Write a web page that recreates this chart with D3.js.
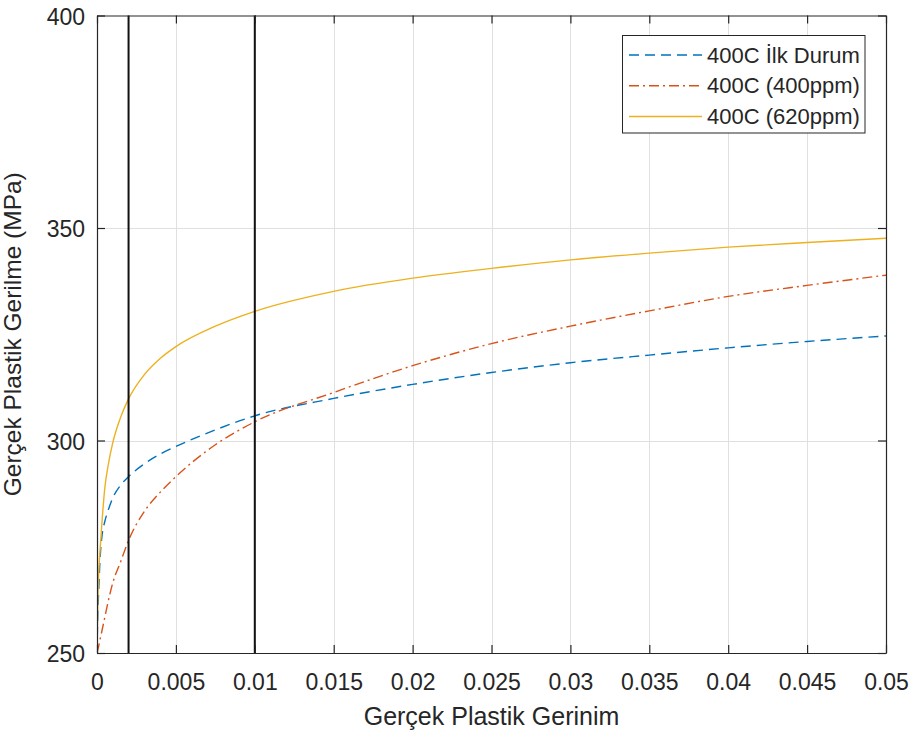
<!DOCTYPE html>
<html>
<head>
<meta charset="utf-8">
<script src="https://cdn.jsdelivr.net/npm/d3@7"></script>
<style>
  html, body { margin: 0; padding: 0; background: #ffffff; }
  svg { display: block; }
  text { font-family: "Liberation Sans", Arial, sans-serif; fill: #262626; }
</style>
</head>
<body>
<svg id="chart" width="915" height="734"></svg>
<script>
// True plastic strain sample points (shared by all curves)
const strain = [0, 0.00005, 0.0001, 0.0002, 0.0003, 0.0005, 0.0007, 0.001, 0.0015, 0.002,
                0.003, 0.004, 0.005, 0.0075, 0.01, 0.015, 0.02, 0.025, 0.03, 0.035, 0.04, 0.045, 0.05];

// True plastic stress (MPa) for each condition
const stressInitial = [250, 259, 264, 272.5, 277, 281, 283.5, 286.5, 289.5, 291.5,
                       294.5, 296.8, 298.6, 302.5, 305.8, 309.9, 313.2, 316.0, 318.3, 320.1, 321.8, 323.3, 324.6];
const stress400ppm  = [250, 250.8, 251.5, 253.3, 255, 258.5, 262, 266.5, 271.5, 276.5,
                       283.3, 287.8, 291.5, 299, 304.4, 311.3, 317.6, 322.8, 326.9, 330.5, 333.9, 336.5, 338.9];
const stress620ppm  = [250, 262, 268, 274.5, 280, 289, 294, 299.5, 305.5, 309.8,
                       315.5, 319.3, 322.1, 326.9, 330.4, 335.1, 338.2, 340.5, 342.5, 344.1, 345.5, 346.6, 347.6];

const seriesNames = ["400C İlk Durum", "400C (400ppm)", "400C (620ppm)"];

// Vertical reference strains
const refStrains = [0.002, 0.01];

// Axis ticks
const xTicks = [0, 0.005, 0.01, 0.015, 0.02, 0.025, 0.03, 0.035, 0.04, 0.045, 0.05];
const xTickLabels = ["0", "0.005", "0.01", "0.015", "0.02", "0.025", "0.03", "0.035", "0.04", "0.045", "0.05"];
const yTicks = [250, 300, 350, 400];
const yTickLabels = ["250", "300", "350", "400"];

const xTitle = "Gerçek Plastik Gerinim";
const yTitle = "Gerçek Plastik Gerilme (MPa)";

// Layout
const L = 97, R = 886, T = 15.5, B = 653;
const svg = d3.select("#chart");

const x = d3.scaleLinear().domain([0, 0.05]).range([L, R]);
const y = d3.scaleLinear().domain([250, 400]).range([B, T]);

const styles = [
  { color: "#0072BD", dash: "10,6" },
  { color: "#D95319", dash: "10,4,2,4" },
  { color: "#EDB120", dash: null }
];
const seriesValues = [stressInitial, stress400ppm, stress620ppm];
const series = seriesNames.map((name, i) => ({
  name,
  style: styles[i],
  points: strain.map((e, j) => ({ e, s: seriesValues[i][j] }))
}));

// Grid
const grid = svg.append("g").attr("class", "grid");
grid.selectAll("line.gx").data(xTicks.slice(1, -1)).join("line")
  .attr("x1", d => Math.round(x(d)) + 0.5).attr("x2", d => Math.round(x(d)) + 0.5)
  .attr("y1", T).attr("y2", B)
  .attr("stroke", "#e0e0e0").attr("stroke-width", 1);
grid.selectAll("line.gy").data(yTicks.slice(1, -1)).join("line")
  .attr("y1", d => Math.round(y(d)) + 0.5).attr("y2", d => Math.round(y(d)) + 0.5)
  .attr("x1", L).attr("x2", R)
  .attr("stroke", "#e0e0e0").attr("stroke-width", 1);

// Curves
const line = d3.line().x(d => x(d.e)).y(d => y(d.s)).curve(d3.curveMonotoneX);
svg.append("clipPath").attr("id", "plotClip")
  .append("rect").attr("x", L).attr("y", T).attr("width", R - L).attr("height", B - T);
const curves = svg.append("g").attr("clip-path", "url(#plotClip)");
curves.selectAll("path").data(series).join("path")
  .attr("d", d => line(d.points))
  .attr("fill", "none")
  .attr("stroke", d => d.style.color)
  .attr("stroke-width", 1.4)
  .attr("stroke-dasharray", d => d.style.dash);

// Vertical reference lines
svg.append("g").selectAll("line").data(refStrains).join("line")
  .attr("x1", d => x(d)).attr("x2", d => x(d))
  .attr("y1", T).attr("y2", B)
  .attr("stroke", "#111111").attr("stroke-width", 2);

// Axes (ticks pointing inward, on all four sides)
const axisColor = "#262626";
const tickLen = 8;
const axBottom = svg.append("g").attr("transform", `translate(0,${B})`)
  .call(d3.axisBottom(x).tickValues(xTicks).tickFormat((d, i) => xTickLabels[i]).tickSizeInner(-tickLen).tickSizeOuter(0));
const axTop = svg.append("g").attr("transform", `translate(0,${T})`)
  .call(d3.axisTop(x).tickValues(xTicks).tickFormat("").tickSizeInner(-tickLen).tickSizeOuter(0));
const axLeft = svg.append("g").attr("transform", `translate(${L},0)`)
  .call(d3.axisLeft(y).tickValues(yTicks).tickFormat((d, i) => yTickLabels[i]).tickSizeInner(-tickLen).tickSizeOuter(0));
const axRight = svg.append("g").attr("transform", `translate(${R},0)`)
  .call(d3.axisRight(y).tickValues(yTicks).tickFormat("").tickSizeInner(-tickLen).tickSizeOuter(0));

[axBottom, axTop, axLeft, axRight].forEach(g => {
  g.select(".domain").attr("stroke", axisColor).attr("stroke-width", 1.2);
  g.selectAll(".tick line").attr("stroke", axisColor).attr("stroke-width", 1.2);
});
axBottom.selectAll(".tick text")
  .attr("font-size", 23).attr("font-family", "Liberation Sans, Arial, sans-serif")
  .attr("fill", axisColor).attr("dy", 0).attr("y", 690 - B);
axLeft.selectAll(".tick text")
  .attr("font-size", 23).attr("font-family", "Liberation Sans, Arial, sans-serif")
  .attr("fill", axisColor).attr("dy", 0).attr("y", 8.5).attr("x", 85 - L);

// Axis titles
svg.append("text")
  .attr("x", (L + R) / 2).attr("y", 725)
  .attr("text-anchor", "middle").attr("font-size", 25)
  .text(xTitle);
svg.append("text")
  .attr("transform", `translate(21,${(T + B) / 2}) rotate(-90)`)
  .attr("text-anchor", "middle").attr("font-size", 24.5)
  .text(yTitle);

// Legend
const lg = svg.append("g");
lg.append("rect")
  .attr("x", 622.5).attr("y", 35.5).attr("width", 242.5).attr("height", 97.5)
  .attr("fill", "#ffffff").attr("stroke", axisColor).attr("stroke-width", 1);
const rowY = d3.scaleLinear().domain([0, 2]).range([55, 116.5]);
const rows = lg.selectAll("g.row").data(series).join("g")
  .attr("transform", (d, i) => `translate(0,${rowY(i)})`);
rows.append("line")
  .attr("x1", 629).attr("x2", 702).attr("y1", 0).attr("y2", 0)
  .attr("stroke", d => d.style.color).attr("stroke-width", 1.3)
  .attr("stroke-dasharray", d => d.style.dash);
rows.append("text")
  .attr("x", 707).attr("y", 7.7)
  .attr("font-size", 22)
  .text(d => d.name);
</script>
</body>
</html>
